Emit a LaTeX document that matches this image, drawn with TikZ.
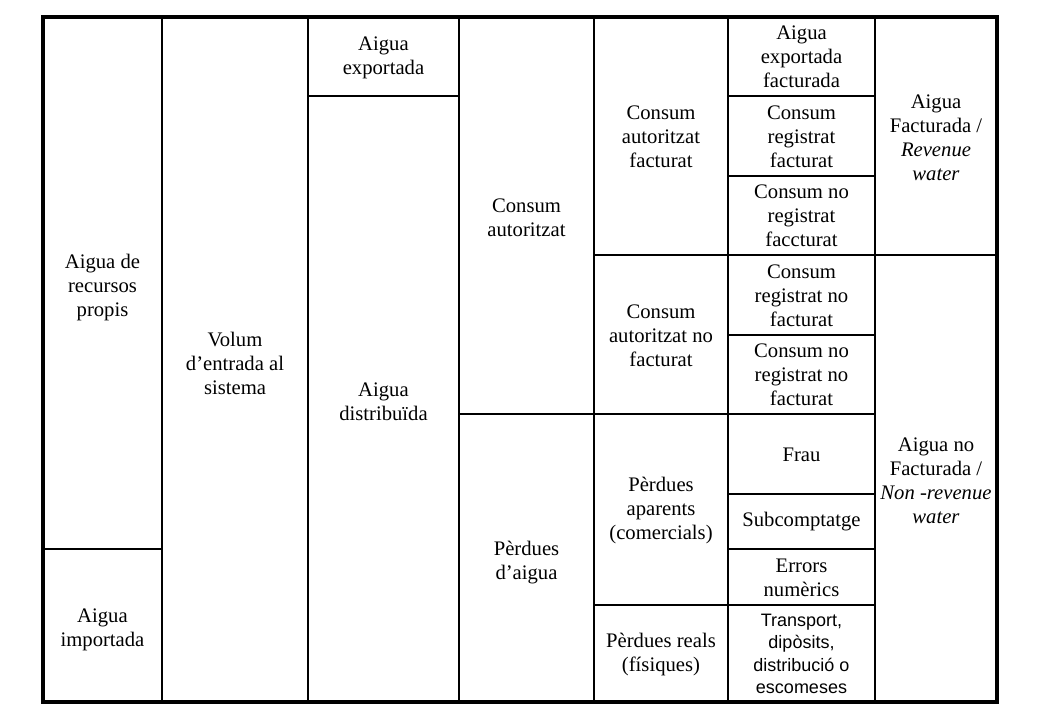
\documentclass[tikz,border=0pt]{standalone}
\usepackage{fontspec}
\setmainfont{Liberation Serif}
\newfontfamily\arialfont{Liberation Sans}
\begin{document}
\begin{tikzpicture}[x=0.75pt, y=-0.75pt, line cap=rect]
	\tikzset{cell/.style={align=center, inner sep=0pt, font=\fontsize{15.5}{18}\selectfont},
		sanscell/.style={align=center, inner sep=0pt, font=\arialfont\fontsize{13.5}{16.7}\selectfont},
		grid line/.style={line width=0.8pt}, frame line/.style={line width=2.6pt}}
	\useasboundingbox (0,0) rectangle (1040,720);
	% columns
	\foreach \x in {162,308,459,594,728,875} \draw[grid line] (\x,17)--(\x,702);
	% rows
	\draw[grid line] (43,549)--(162,549);
	\draw[grid line] (308,96)--(459,96);
	\draw[grid line] (459,414)--(875,414);
	\draw[grid line] (594,255)--(997,255);
	\draw[grid line] (594,605)--(875,605);
	\foreach \y in {96,176,335,494,549} \draw[grid line] (728,\y)--(875,\y);
	\draw[frame line] (43,17) rectangle (997,702);
	% cells
	\node[cell] (propis) at (102.5,288) {Aigua de\\recursos\\propis};
	\node[cell] (importada) at (102.5,630) {Aigua\\importada};
	\node[cell] (entrada) at (235,363) {Volum\\d’entrada al\\sistema};
	\node[cell] (exportada) at (383.5,58) {Aigua\\exportada};
	\node[cell] (distribuida) at (383.5,402) {Aigua\\distribuïda};
	\node[cell] (autoritzat) at (526.5,218) {Consum\\autoritzat};
	\node[cell] (perdues) at (526.5,563) {Pèrdues\\d’aigua};
	\node[cell] (autfact) at (661,136.5) {Consum\\autoritzat\\facturat};
	\node[cell] (autnofact) at (661,336) {Consum\\autoritzat no\\facturat};
	\node[cell] (aparents) at (661,511) {Pèrdues\\aparents\\(comercials)};
	\node[cell] (reals) at (661,655) {Pèrdues reals\\(físiques)};
	\node[cell] (expfact) at (801.5,57) {Aigua\\exportada\\facturada};
	\node[cell] (regfact) at (801.5,136.5) {Consum\\registrat\\facturat};
	\node[cell] (noregfact) at (801.5,216) {Consum no\\registrat\\faccturat};
	\node[cell] (regnofact) at (801.5,295.5) {Consum\\registrat no\\facturat};
	\node[cell] (noregnofact) at (801.5,375) {Consum no\\registrat no\\facturat};
	\node[cell] (frau) at (801.5,455) {Frau};
	\node[cell] (subcompt) at (801.5,522) {Subcomptatge};
	\node[cell] (errors) at (801.5,577.5) {Errors\\numèrics};
	\node[sanscell] (transport) at (801.5,654) {Transport,\\dipòsits,\\distribució o\\escomeses};
	\node[cell] (revenue) at (936,138) {Aigua\\Facturada /\\\textit{Revenue}\\\textit{water}};
	\node[cell] (nonrevenue) at (936,481) {Aigua no\\Facturada /\\\textit{Non -revenue}\\\textit{water}};
\end{tikzpicture}
\end{document}
